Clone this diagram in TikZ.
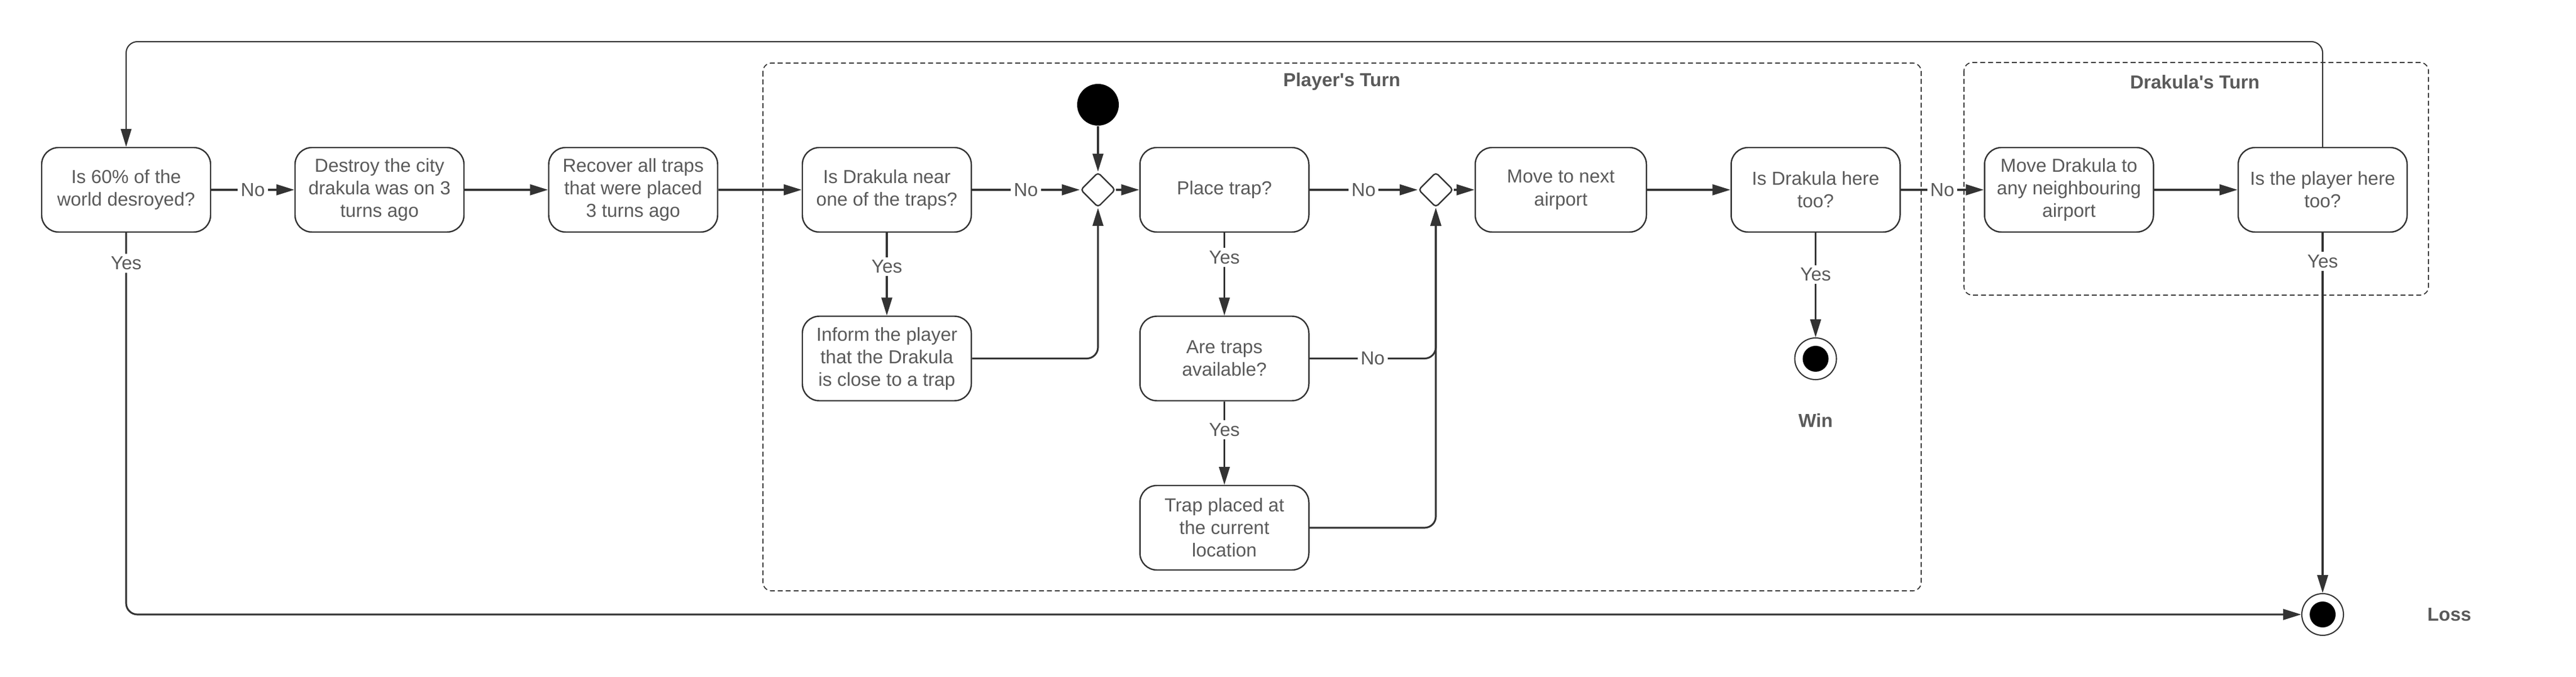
\documentclass[tikz,border=0pt]{standalone}
\usepackage{fontspec}
\setmainfont{Liberation Sans}[Ligatures=TeXOff]
\usepackage{xcolor}
\usetikzlibrary{arrows.meta}
\usetikzlibrary{shapes.geometric}
\usetikzlibrary{positioning}
\definecolor{ink}{HTML}{333333}
\definecolor{txt}{HTML}{5A5A5A}
\tikzstyle{act} = [rectangle, rounded corners=0.3cm, draw=ink, line width=0.7pt, fill=white, minimum width=3cm, minimum height=1.5cm, align=center, text=txt]
\tikzstyle{arrow} = [draw=ink, line width=0.9pt, -{Triangle[length=0.32cm,width=0.19cm]}]

\begin{document}
\begin{tikzpicture}[font=\fontsize{9.5}{11.4}\selectfont,
		merge/.style = {diamond, draw=ink, line width=0.7pt, fill=white, minimum size=0.62cm, inner sep=0pt, rounded corners=1.5pt},
		initial/.style = {circle, fill=black, minimum size=0.74cm, inner sep=0pt},
		final/.style = {circle, draw=ink, line width=0.6pt, fill=white, minimum size=0.74cm, inner sep=0pt,
			path picture={\fill[black] (path picture bounding box.center) circle (0.23cm);}},
		lbl/.style = {fill=white, text=txt, inner sep=1.5pt},
		frame/.style = {draw=ink, line width=0.5pt, dash pattern=on 2.5pt off 1.5pt, rounded corners=0.15cm},
		title/.style = {text=txt, font=\fontsize{9.5}{11.4}\selectfont\bfseries}]

		\useasboundingbox (0,0) rectangle (45.75,-12.02);

		% Turn frames
		\draw[frame] (13.55,-1.12) rectangle (34.12,-10.49);
		\draw[frame] (34.88,-1.11) rectangle (43.13,-5.24);
		\node[title] (ptitle) at (23.83,-1.45) {Player's Turn};
		\node[title] (dtitle) at (38.98,-1.46) {Drakula's Turn};

		% Actions
		\node[act] (q60) at (2.24,-3.37) {Is 60\% of the\\world desroyed?};
		\node[act] (destroy) at (6.74,-3.37) {Destroy the city\\drakula was on 3\\turns ago};
		\node[act] (recover) at (11.245,-3.37) {Recover all traps\\that were placed\\3 turns ago};
		\node[act] (nearq) at (15.75,-3.37) {Is Drakula near\\one of the traps?};
		\node[act] (inform) at (15.75,-6.365) {Inform the player\\that the Drakula\\is close to a trap};
		\node[act] (placeq) at (21.745,-3.37) {Place trap?};
		\node[act] (availq) at (21.745,-6.365) {Are traps\\available?};
		\node[act] (placed) at (21.745,-9.37) {Trap placed at\\the current\\location};
		\node[act, minimum width=3.04cm] (movenext) at (27.72,-3.37) {Move to next\\airport};
		\node[act] (hereq) at (32.245,-3.37) {Is Drakula here\\too?};
		\node[act] (moved) at (36.745,-3.37) {Move Drakula to\\any neighbouring\\airport};
		\node[act] (playerq) at (41.25,-3.37) {Is the player here\\too?};

		% Start, merges and ends
		\node[initial] (start) at (19.50,-1.86) {};
		\node[merge] (merge1) at (19.50,-3.37) {};
		\node[merge] (merge2) at (25.50,-3.37) {};
		\node[final] (win) at (32.245,-6.37) {};
		\node[title] (winlbl) at (32.245,-7.46) {Win};
		\node[final] (loss) at (41.25,-10.91) {};
		\node[title] (losslbl) at (43.50,-10.91) {Loss};
		\coordinate (loop) at (23,-0.74);

		% Flow
		\draw[arrow] (q60) -- node[lbl]{No} (destroy);
		\draw[arrow] (destroy) -- (recover);
		\draw[arrow] (recover) -- (nearq);
		\draw[arrow] (nearq) -- node[lbl]{No} (merge1);
		\draw[arrow] (nearq) -- node[lbl,pos=0.41]{Yes} (inform);
		\draw[arrow, rounded corners=0.2cm] (inform) -| (merge1);
		\draw[arrow] (start) -- (merge1);
		\draw[arrow] (merge1) -- (placeq);
		\draw[arrow] (placeq) -- node[lbl]{No} (merge2);
		\draw[arrow] (placeq) -- node[lbl,pos=0.3]{Yes} (availq);
		\draw[arrow, rounded corners=0.2cm] (availq) -| node[lbl,pos=0.25]{No} (merge2);
		\draw[arrow] (availq) -- node[lbl,pos=0.34]{Yes} (placed);
		\draw[arrow, rounded corners=0.2cm] (placed) -| (merge2);
		\draw[arrow] (merge2) -- (movenext);
		\draw[arrow] (movenext) -- (hereq);
		\draw[arrow] (hereq) -- node[lbl,pos=0.4]{Yes} (win);
		\draw[arrow] (hereq) -- node[lbl]{No} (moved);
		\draw[arrow] (moved) -- (playerq);
		\draw[arrow] (playerq) -- node[lbl,pos=0.08]{Yes} (loss);
		\draw[arrow, rounded corners=0.2cm] (q60) |- node[lbl,pos=0.04]{Yes} (loss);
		\draw[arrow, line width=0.6pt, rounded corners=0.2cm] (playerq) |- (loop) -| (q60);
\end{tikzpicture}
\end{document}
